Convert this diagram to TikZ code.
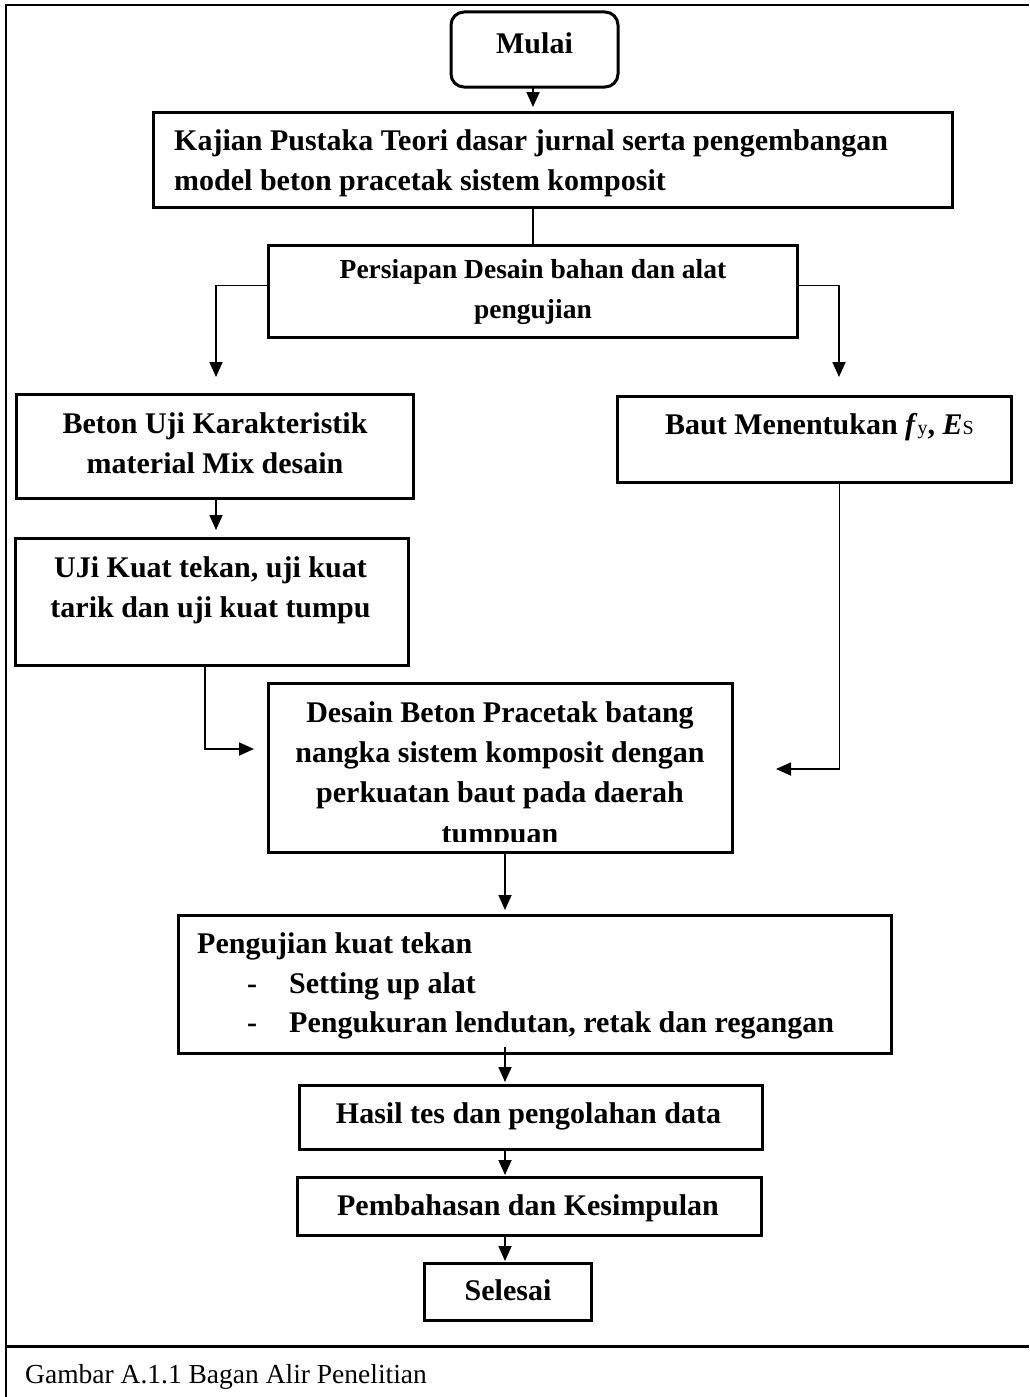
\documentclass[tikz,border=0pt]{standalone}
\usepackage{fontspec}
\setmainfont{Liberation Serif}
\usetikzlibrary{arrows.meta,calc}
\begin{document}
\begin{tikzpicture}[x=1pt,y=-1pt,
  box/.style={draw, line width=3pt, inner sep=0pt, outer sep=0pt, rectangle},
  arr/.style={line width=1.8pt, -{Triangle[length=15pt,width=13pt]}},
  ln/.style={line width=1.8pt},
  tb/.style={font=\bfseries\fontsize{30}{40}\selectfont, inner sep=0pt, anchor=base},
  tbs/.style={font=\bfseries\fontsize{27.5}{40}\selectfont, inner sep=0pt, anchor=base},
  tr/.style={font=\fontsize{27.5}{36}\selectfont, inner sep=0pt, anchor=base west}]
\useasboundingbox (0,0) rectangle (1029,1397);
% frame
\draw[line width=2pt] (6,1397) -- (6,5) -- (1029,5);
\draw[line width=3pt] (6,1346) -- (1029,1346);
% boxes
\node[box, rounded corners=13pt, minimum width=167pt, minimum height=75pt] (mulai) at (534.5,49.5) {};
\node[box, minimum width=799pt, minimum height=95pt] (kaj) at (552.5,159.5) {};
\node[box, minimum width=529pt, minimum height=92pt] (pers) at (532.5,291) {};
\node[box, minimum width=397pt, minimum height=104pt] (bet) at (214.5,446) {};
\node[box, minimum width=394pt, minimum height=86pt] (baut) at (814,439) {};
\node[box, minimum width=393pt, minimum height=127pt] (uji) at (211.5,601.5) {};
\node[box, minimum width=464pt, minimum height=169pt] (des) at (500,767.5) {};
\node[box, minimum width=713pt, minimum height=138pt] (pen) at (534.5,984) {};
\node[box, minimum width=463pt, minimum height=64pt] (has) at (530.5,1117) {};
\node[box, minimum width=464pt, minimum height=58pt] (pem) at (529,1206) {};
\node[box, minimum width=167pt, minimum height=57pt] (sel) at (507.5,1291.5) {};
% texts
\node[tb] (mulaiT) at (534.5,53) {Mulai};
\node[tb, anchor=base west] (kaj1) at (174,150) {Kajian Pustaka Teori dasar jurnal serta pengembangan};
\node[tb, anchor=base west] (kaj2) at (174,190) {model beton pracetak sistem komposit};
\node[tbs] (pers1) at (533,278) {Persiapan Desain bahan dan alat};
\node[tbs] (pers2) at (533,318) {pengujian};
\node[tb] (bet1) at (215,433) {Beton Uji Karakteristik};
\node[tb] (bet2) at (215,473) {material Mix desain};
\node[tb] (baut1) at (819.5,434) {Baut Menentukan \textit{f}{\mdseries\fontsize{20}{20}\selectfont y}, \textit{E}{\mdseries\fontsize{20}{20}\selectfont S}};
\node[tb] (uji1) at (210.5,577) {UJi Kuat tekan, uji kuat};
\node[tb] (uji2) at (210.5,617) {tarik dan uji kuat tumpu};
\node[tb] (des1) at (500,722) {Desain Beton Pracetak batang};
\node[tb] (des2) at (500,762) {nangka sistem komposit dengan};
\node[tb] (des3) at (500,802) {perkuatan baut pada daerah};
\begin{scope}
\clip (268,683) rectangle (732,841);
\node[tb] (des4) at (500,843) {tumpuan};
\end{scope}
\node[tb, anchor=base west] (pen1) at (197,953) {Pengujian kuat tekan};
\node[tb, anchor=base west] (penD1) at (247,993) {-};
\node[tb, anchor=base west] (pen2) at (289,993) {Setting up alat};
\node[tb, anchor=base west] (penD2) at (247,1032) {-};
\node[tb, anchor=base west] (pen3) at (289,1032) {Pengukuran lendutan, retak dan regangan};
\node[tb] (has1) at (528.5,1123) {Hasil tes dan pengolahan data};
\node[tb] (pem1) at (528,1215) {Pembahasan dan Kesimpulan};
\node[tb] (sel1) at (508,1300) {Selesai};
\node[tr] (cap) at (25,1383) {Gambar A.1.1 Bagan Alir Penelitian};
% connectors
\coordinate (cM) at (533,0);
\draw[arr, shorten >=5pt] (mulai.south -| cM) -- (kaj.north -| cM);
\draw[ln] (kaj.south -| cM) -- (pers.north -| cM);
\draw[arr] ([yshift=5.5pt]pers.west) -| ($(bet.north)+(1.5,-17)$);
\draw[arr] ([yshift=5.5pt]pers.east) -| ($(baut.north)+(25,-19)$);
\draw[arr] ($(bet.south)+(1.5,0)$) -- ($(uji.north)+(4.5,-8)$);
\draw[arr] ($(uji.south)+(-6.5,0)$) |- ($(des.west)+(-14,-18.5)$);
\draw[arr] ($(baut.south)+(25.5,0)$) |- ($(des.east)+(44,1.5)$);
\draw[arr] ($(des.south)+(5,0)$) -- ($(pen.north)+(-29.5,-5)$);
\draw[arr] ($(pen.south)+(-29.5,-6)$) -- ($(has.north)+(-25.5,-3)$);
\draw[arr] ($(has.south)+(-25.5,0)$) -- ($(pem.north)+(-24,-2)$);
\draw[arr] ($(pem.south)+(-24,0)$) -- ($(sel.north)+(-2.5,-2)$);
\end{tikzpicture}
\end{document}
